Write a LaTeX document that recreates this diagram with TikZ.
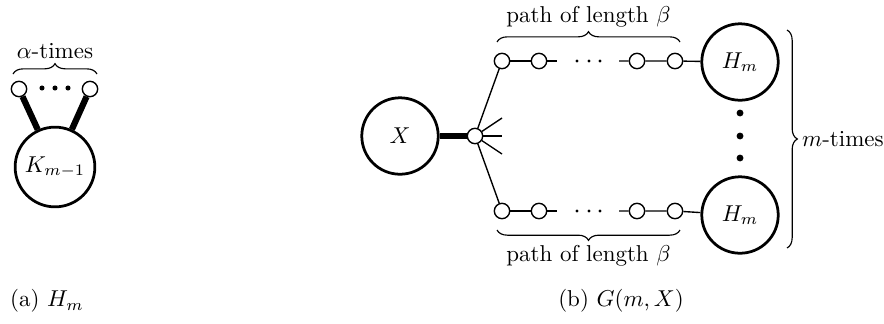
\documentclass[tikz,border=0pt]{standalone}
\usepackage{tikz}
\usetikzlibrary{arrows, positioning, decorations.pathreplacing}
\usepackage{amsmath}

\begin{document}
\begin{tikzpicture}[x=0.0153cm, y=-0.0153cm,
			big/.style={circle, draw, line width=1.2pt, minimum size=1.17cm, inner sep=0pt},
			small/.style={circle, draw, line width=0.6pt, minimum size=0.235cm, inner sep=0pt, fill=white},
			fat/.style={line width=2.7pt},
			thin/.style={line width=0.6pt},
			brace/.style={decorate, decoration={brace, amplitude=4.5pt}, line width=0.5pt}]

			\useasboundingbox (0,0) rectangle (884,323);

			% (a) the gadget H_m
			\node[big, minimum size=1.22cm] (k) at (55,167) {$K_{m-1}$};
			\node[small] (a1) at (19,89) {};
			\node[small] (a2) at (90,89) {};
			\draw[fat] (a1) -- (k);
			\draw[fat] (a2) -- (k);
			\foreach \x in {42,55,68} \fill (\x,88) circle (1.1pt);
			\draw[brace] (13,74) -- (97,74) node (alab) [midway, above=3pt] {$\alpha$-times};
			\node (capa) at (47,301) {(a)~$H_m$};

			% (b) the graph G(m,X)
			\node[big] (x) at (400,136) {$X$};
			\node[small] (hub) at (475,136) {};
			\draw[fat] (x) -- (hub);
			\coordinate (s1) at (502,118);
			\coordinate (s2) at (502,136);
			\coordinate (s3) at (502,154);
			\foreach \s in {s1,s2,s3} \draw[thin] (hub) -- (\s);

			\node[big] (h1) at (740,62) {$H_m$};
			\node[big] (h2) at (740,215) {$H_m$};
			\foreach \y in {113,136,158} \fill (740,\y) circle (1.5pt);

			% top path
			\node[small] (t1) at (502,61) {};
			\node[small] (t2) at (539,61) {};
			\node[small] (t3) at (637,61) {};
			\node[small] (t4) at (675,61) {};
			\coordinate (te1) at (557,61);
			\coordinate (te2) at (619,61);
			\draw[thin] (hub) -- (t1);
			\draw[thin] (t1) -- (t2) -- (te1);
			\draw[thin] (te2) -- (t3) -- (t4) -- (h1);
			\foreach \x in {577,589,600} \fill (\x,61) circle (0.7pt);
			\draw[brace] (497,42) -- (680,42) node (tlab) [midway, above=3pt] {path of length $\beta$};

			% bottom path
			\node[small] (b1) at (502,211) {};
			\node[small] (b2) at (539,211) {};
			\node[small] (b3) at (637,211) {};
			\node[small] (b4) at (675,211) {};
			\coordinate (be1) at (557,211);
			\coordinate (be2) at (619,211);
			\draw[thin] (hub) -- (b1);
			\draw[thin] (b1) -- (b2) -- (be1);
			\draw[thin] (be2) -- (b3) -- (b4) -- (h2);
			\foreach \x in {577,589,600} \fill (\x,211) circle (0.7pt);
			\draw[brace] (680,230) -- (497,230) node (blab) [midway, below=3pt] {path of length $\beta$};

			\draw[brace] (787,30) -- (787,248) node (mlab) [midway, right=3pt] {$m$-times};
			\node (capb) at (621,301) {(b)~$G(m,X)$};
		\end{tikzpicture}
\end{document}
